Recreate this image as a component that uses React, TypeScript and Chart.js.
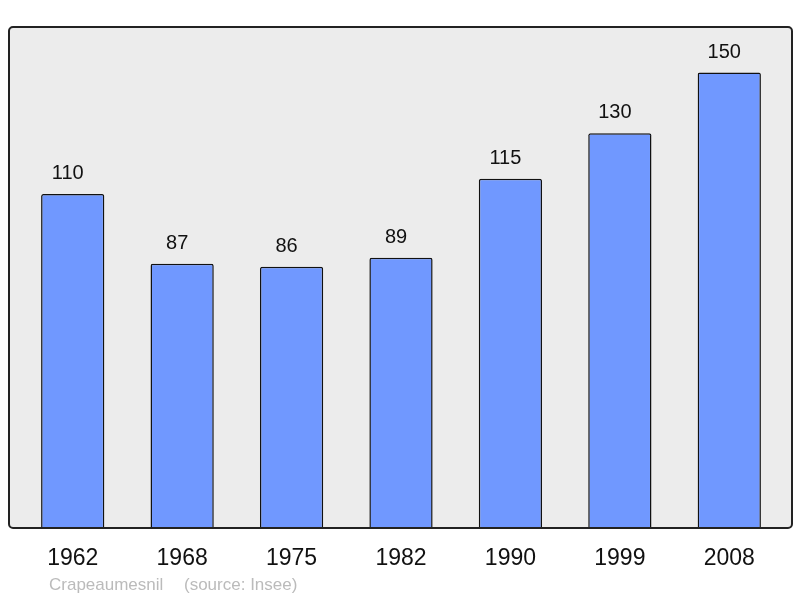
import React, { useEffect, useRef } from "react";
import { Chart, registerables } from "chart.js";

Chart.register(...registerables);

const years = ["1962", "1968", "1975", "1982", "1990", "1999", "2008"];
const population = [110, 87, 86, 89, 115, 130, 150];
const footerName = "Crapeaumesnil";
const footerSource = "(source: Insee)";

const FONT = "'Liberation Sans', Arial, sans-serif";

const decorPlugin = {
  id: "decor",
  beforeDraw(chart: any) {
    const { ctx, chartArea } = chart;
    const l = chartArea.left - 9;
    const r = chartArea.right + 8;
    const t = chartArea.top;
    const b = chartArea.bottom;
    ctx.save();
    ctx.beginPath();
    ctx.roundRect(l, t, r - l, b - t, 4);
    ctx.fillStyle = "#ececec";
    ctx.fill();
    ctx.restore();
  },
  afterDatasetsDraw(chart: any) {
    const { ctx, chartArea, scales } = chart;
    const l = chartArea.left - 9;
    const r = chartArea.right + 8;
    const t = chartArea.top;
    const b = chartArea.bottom;
    ctx.save();
    ctx.beginPath();
    ctx.roundRect(l, t, r - l, b - t, 4);
    ctx.lineWidth = 2;
    ctx.strokeStyle = "#222";
    ctx.stroke();

    // value labels
    ctx.fillStyle = "#111";
    ctx.font = `20px ${FONT}`;
    ctx.textAlign = "center";
    ctx.textBaseline = "alphabetic";
    population.forEach((v, i) => {
      const x = scales.x.getPixelForValue(i);
      const y = scales.y.getPixelForValue(v);
      ctx.fillText(String(v), x - 5, y - 15);
    });

    // category labels
    ctx.font = `23px ${FONT}`;
    ctx.fillStyle = "#111";
    years.forEach((yr, i) => {
      const x = scales.x.getPixelForValue(i);
      ctx.fillText(yr, x, b + 37);
    });

    // footer
    ctx.font = `17px ${FONT}`;
    ctx.fillStyle = "#bbb";
    ctx.textAlign = "left";
    ctx.fillText(footerName, 49, b + 62);
    ctx.fillText(footerSource, 184, b + 62);
    ctx.restore();
  },
};

export default function App() {
  const ref = useRef<HTMLCanvasElement>(null);
  useEffect(() => {
    document.body.style.margin = "0";
    const chart = new Chart(ref.current!, {
      type: "bar",
      data: {
        labels: years,
        datasets: [
          {
            data: population,
            backgroundColor: "#7098ff",
            borderColor: "#111",
            borderWidth: 1.5,
            borderRadius: 2,
            borderSkipped: "bottom",
            barPercentage: 0.578,
            categoryPercentage: 1,
          },
        ],
      },
      options: {
        animation: false,
        responsive: false,
        maintainAspectRatio: false,
        layout: { padding: { left: 18, right: 16, top: 27, bottom: 70 } },
        plugins: { legend: { display: false }, tooltip: { enabled: false } },
        scales: {
          x: { display: false },
          y: { display: false, min: 0, max: 165 },
        },
      },
      plugins: [decorPlugin],
    });
    return () => chart.destroy();
  }, []);
  return (
    <div style={{ position: "absolute", left: 0, top: 0, width: 800, height: 598 }}>
      <canvas ref={ref} width={800} height={598} style={{ display: "block" }} />
    </div>
  );
}
